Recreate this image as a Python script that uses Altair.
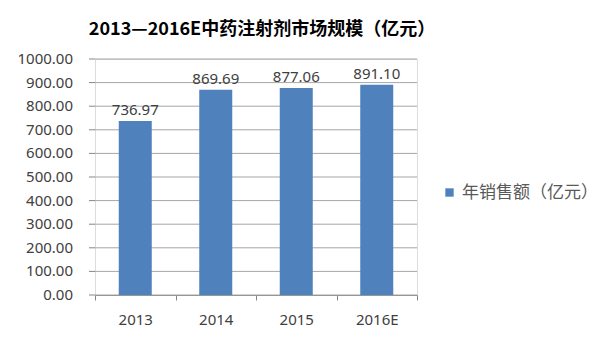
import altair as alt
import pandas as pd

years = ["2013", "2014", "2015", "2016E"]
sales = [736.97, 869.69, 877.06, 891.10]
series = ["年销售额（亿元）"] * 4
y_ticks = [0, 100, 200, 300, 400, 500, 600, 700, 800, 900, 1000]

df = pd.DataFrame({"year": years, "sales": sales, "series": series})
tick_df = pd.DataFrame({"v": y_ticks})

cjk = "Noto Sans CJK SC"
num = "Noto Sans"
W, H = 322, 236

yscale = alt.Scale(domain=[0, 1000], nice=False)

x = alt.X("year:N", sort=years, title=None,
          scale=alt.Scale(paddingInner=0, paddingOuter=0),
          axis=alt.Axis(labelAngle=0, tickBand="extent", labelFontSize=15,
                        labelColor="#404040", labelFont=num, labelPadding=12,
                        domainColor="#868686", tickColor="#868686", tickSize=5))
y = alt.Y("sales:Q", title=None, scale=yscale,
          axis=alt.Axis(grid=False, labels=False, ticks=False,
                        domainColor="#868686"))

grid = alt.Chart(tick_df).mark_rule(color="#a6a6a6", strokeWidth=1).encode(
    y=alt.Y("v:Q", scale=yscale, axis=None),
    x=alt.value(0), x2=alt.value(W))
yticks = alt.Chart(tick_df).mark_rule(color="#868686", strokeWidth=1).encode(
    y=alt.Y("v:Q", scale=yscale, axis=None),
    x=alt.value(-6), x2=alt.value(0))
ylabels = alt.Chart(tick_df).mark_text(align="right", baseline="middle",
                                       fontSize=15, color="#404040", font=num).encode(
    y=alt.Y("v:Q", scale=yscale, axis=None),
    x=alt.value(-22), text=alt.Text("v:Q", format=".2f"))

bars = alt.Chart(df).mark_bar(width=alt.RelativeBandSize(0.41)).encode(
    x=x, y=y,
    color=alt.Color("series:N", scale=alt.Scale(range=["#4F81BD"]),
                    legend=alt.Legend(title=None, orient="none", legendX=346,
                                      legendY=125, symbolType="square",
                                      symbolSize=70, labelFontSize=17,
                                      labelColor="#595959", labelFont=cjk,
                                      labelOffset=4, symbolStrokeWidth=0))
)
labels = alt.Chart(df).mark_text(baseline="bottom", dy=-3, fontSize=15,
                                 color="#404040", font=num).encode(
    x=x, y=y, text=alt.Text("sales:Q", format=".2f")
)

chart = alt.layer(grid, yticks, ylabels, bars, labels).properties(
    width=W, height=H,
    title=alt.TitleParams("2013—2016E中药注射剂市场规模（亿元）", fontSize=18,
                          font=cjk, fontWeight="bold", color="#000000",
                          anchor="middle", offset=14, dx=6, dy=1),
    autosize=alt.AutoSizeParams(type="none"),
    padding={"left": 95, "top": 59, "right": 187, "bottom": 48},
).configure_view(stroke=None).configure(background="white")

chart.save("out.html", embed_options={"renderer": "svg", "actions": False})
